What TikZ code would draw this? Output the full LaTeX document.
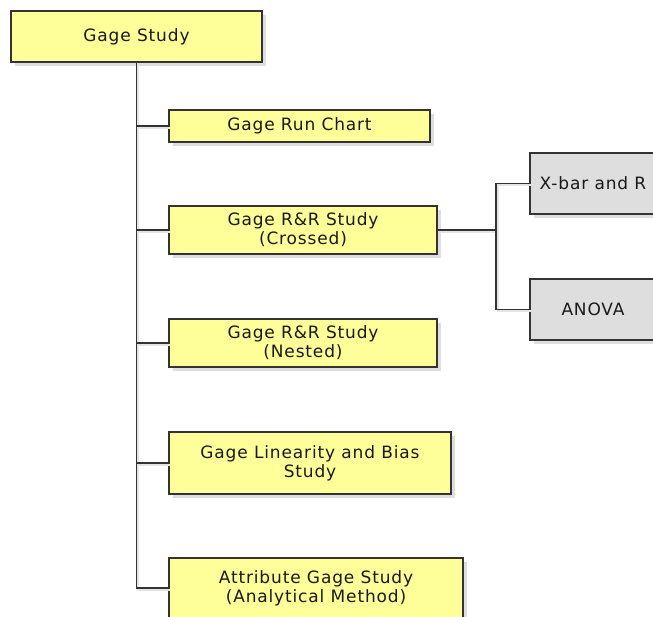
\documentclass[tikz,border=0pt]{standalone}
\usepackage{fontspec}
\setmainfont[LetterSpace=5]{DejaVu Sans}
\usepackage{tikz}
\usetikzlibrary{shadows,shapes}
\usepackage{xcolor}
\definecolor{boxyellow}{HTML}{FFFF99}
\definecolor{boxgray}{HTML}{DEDEDE}

\begin{document}
\begin{tikzpicture}[x=1pt, y=-1pt, font=\fontsize{17}{19}\selectfont,
  study/.style={draw=black!80, line width=1.4pt, align=center, fill=boxyellow,
    text=black!90, inner sep=0pt,
    drop shadow={shadow xshift=4pt, shadow yshift=-4pt, fill=black!13, opacity=1}},
  method/.style={study, fill=boxgray},
  link/.style={draw=black!80, line width=1.3pt,
    preaction={draw=black!10, line width=2.2pt, transform canvas={shift={(1.8pt,-1.8pt)}}}},
]
\useasboundingbox (0,0) rectangle (653,616);

\node[study, minimum width=251pt, minimum height=51pt] (gagestudy) at (136.5,36.5) {Gage Study};
\node[study, minimum width=261pt, minimum height=32pt] (runchart) at (299.5,126) {Gage Run Chart};
\node[study, minimum width=268pt, minimum height=48pt] (rrcrossed) at (303,230) {Gage R\&R Study\\(Crossed)};
\node[study, minimum width=268pt, minimum height=48pt] (rrnested) at (303,343) {Gage R\&R Study\\(Nested)};
\node[study, minimum width=282pt, minimum height=62pt] (linearity) at (310,463) {Gage Linearity and Bias\\Study};
\node[study, minimum width=294pt, minimum height=60pt] (attribute) at (316,588) {Attribute Gage Study\\(Analytical Method)};
\node[method, minimum width=126pt, minimum height=61pt] (xbarr) at (593,183.5) {X-bar and R};
\node[method, minimum width=126pt, minimum height=61pt] (anova) at (593,309.5) {ANOVA};

\coordinate (split) at (496,230);

\draw[link] (gagestudy.south) -- (gagestudy.south |- attribute.west) -- (attribute.west);
\draw[link] (gagestudy.south |- runchart.west) -- (runchart.west);
\draw[link] (gagestudy.south |- rrcrossed.west) -- (rrcrossed.west);
\draw[link] (gagestudy.south |- rrnested.west) -- (rrnested.west);
\draw[link] (gagestudy.south |- linearity.west) -- (linearity.west);
\draw[link] (rrcrossed.east) -- (split);
\draw[link] (xbarr.west) -- (split |- xbarr.west) -- (split |- anova.west) -- (anova.west);
\end{tikzpicture}
\end{document}
